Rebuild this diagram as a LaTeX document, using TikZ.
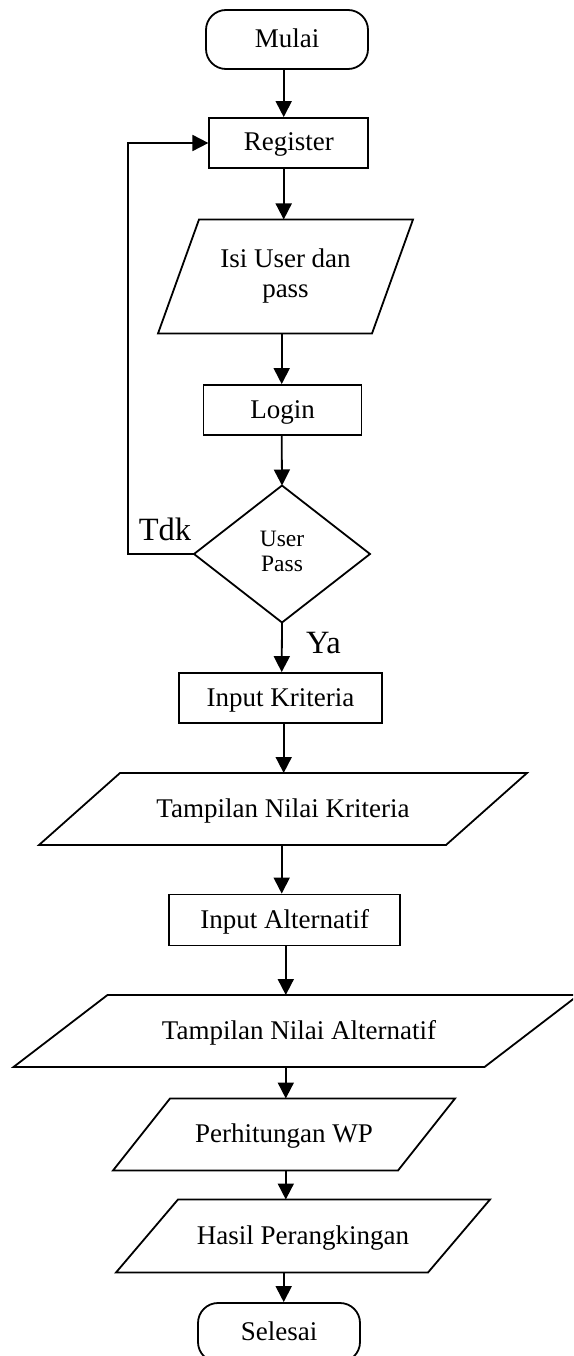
\documentclass[tikz,border=0pt]{standalone}
\usepackage{fontspec}
\setmainfont{Liberation Serif}
\usetikzlibrary{arrows.meta}
\newcommand\paradraw[2]{\draw[ln] ([xshift=#2/2]#1.north west) -- ([xshift=#2/2]#1.north east) -- ([xshift=-#2/2]#1.south east) -- ([xshift=-#2/2]#1.south west) -- cycle;}
\tikzset{
  ln/.style={line width=1.8pt, line join=miter},
  txt/.style={font=\fontsize{27}{30}\selectfont, inner sep=0pt},
  single/.style={text height=18pt, text depth=2pt},
  term/.style={txt, single, draw, ln, rounded corners=20pt, minimum width=162pt, minimum height=59pt},
  proc/.style={txt, single, draw, ln, minimum height=50pt},
  io/.style={txt, outer sep=0pt},
  dec/.style={font=\fontsize{23.5}{25}\selectfont, inner sep=0pt, outer sep=0pt, align=center, minimum width=176pt, minimum height=137pt},
  lab/.style={font=\fontsize{32.5}{36}\selectfont, inner sep=0pt, anchor=base},
  arr/.style={ln, -{Triangle[length=16pt,width=16pt]}}
}
\begin{document}
\begin{tikzpicture}[x=1pt,y=-1pt]
\useasboundingbox (0,0) rectangle (573,1356);
\fill[white] (0,0) rectangle (573,1356);
\clip (0,0) rectangle (573,1356);
\node[term] (mulai) at (287,39.5) {Mulai};
\node[proc, minimum width=159pt] (register) at (288.8,143) {Register};
\node[io, minimum width=214pt, minimum height=114pt, align=center] (isi) at (285.5,276.5) {Isi User dan\\pass};
\paradraw{isi}{41}
\node[proc, minimum width=158pt] (login) at (282.5,410) {Login};
\node[dec] (dia) at (282,554) {\raisebox{-3pt}{\begin{tabular}{@{}c@{}}User\\Pass\end{tabular}}};
\draw[ln] (dia.north) -- (dia.east) -- (dia.south) -- (dia.west) -- cycle;
\node[proc, minimum width=203pt] (ik) at (280.5,698) {Input Kriteria};
\node[io, single, minimum width=407pt, minimum height=72pt] (tk) at (283,809) {Tampilan Nilai Kriteria};
\paradraw{tk}{81}
\node[proc, minimum width=231pt, minimum height=51pt] (ia) at (284.7,920) {Input Alternatif};
\node[io, single, minimum width=471pt, minimum height=72pt] (ta) at (296,1031) {\hspace{6pt}Tampilan Nilai Alternatif};
\paradraw{ta}{94}
\node[io, single, minimum width=285pt, minimum height=72pt] (pw) at (284,1134.5) {Perhitungan WP};
\paradraw{pw}{57}
\node[io, single, minimum width=312pt, minimum height=73pt] (hp) at (303,1236) {Hasil Perangkingan};
\paradraw{hp}{62}
\node[term] (selesai) at (279,1332.5) {Selesai};
\coordinate (c1) at (283.7,0);
\coordinate (c2) at (281.7,0);
\coordinate (c3) at (285.8,0);
\coordinate (fb) at (127.7,0);
\draw[arr] (c1 |- mulai.south) -- (c1 |- register.north);
\draw[arr] (c1 |- register.south) -- (c1 |- isi.north);
\draw[arr] (c2 |- isi.south) -- (c2 |- login.north);
\draw[arr] (c2 |- login.south) -- (dia.north);
\draw[arr] (dia.south) -- (c2 |- ik.north);
\draw[arr] (c1 |- ik.south) -- (c1 |- tk.north);
\draw[arr] (c2 |- tk.south) -- (c2 |- ia.north);
\draw[arr] (c3 |- ia.south) -- (c3 |- ta.north);
\draw[arr] (c3 |- ta.south) -- (c3 |- pw.north);
\draw[arr] (c3 |- pw.south) -- (c3 |- hp.north);
\draw[arr] (c1 |- hp.south) -- (c1 |- selesai.north);
\draw[arr] (dia.west) -- (dia.west -| fb) |- (register.west);
\node[lab] (tdk) at (165,540) {Tdk};
\node[lab] (ya) at (323.5,653) {Ya};
\end{tikzpicture}
\end{document}
